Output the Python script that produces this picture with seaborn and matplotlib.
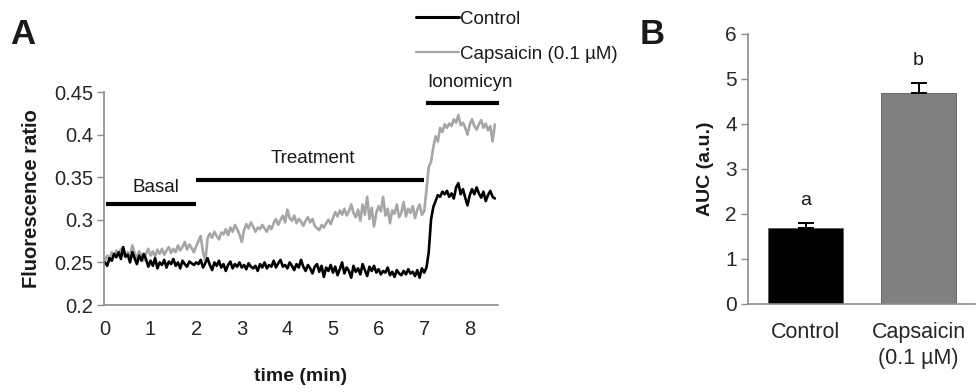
import numpy as np
import pandas as pd
import matplotlib
matplotlib.use("Agg")
import matplotlib.pyplot as plt
from matplotlib.lines import Line2D
import seaborn as sns

# ---- Panel A: calcium imaging traces (fluorescence ratio, sampled every 0.05 min) ----
sample_interval_min = 0.05
control_ratio = [
    0.250, 0.246, 0.255, 0.252, 0.260, 0.256, 0.262, 0.254, 0.268, 0.257,
    0.259, 0.250, 0.262, 0.255, 0.248, 0.258, 0.252, 0.260, 0.254, 0.245,
    0.252, 0.246, 0.255, 0.243, 0.250, 0.247, 0.253, 0.244, 0.251, 0.248,
    0.254, 0.246, 0.250, 0.243, 0.252, 0.248, 0.245, 0.251, 0.249, 0.247,
    0.250, 0.248, 0.253, 0.244, 0.249, 0.255, 0.247, 0.241, 0.250, 0.246,
    0.252, 0.244, 0.248, 0.240, 0.247, 0.251, 0.243, 0.248, 0.245, 0.250,
    0.244, 0.247, 0.242, 0.249, 0.245, 0.243, 0.246, 0.240, 0.248, 0.244,
    0.250, 0.243, 0.247, 0.245, 0.252, 0.244, 0.249, 0.253, 0.245, 0.247,
    0.243, 0.250, 0.246, 0.241, 0.248, 0.244, 0.253, 0.245, 0.240, 0.247,
    0.243, 0.237, 0.245, 0.248, 0.239, 0.246, 0.233, 0.244, 0.240, 0.247,
    0.238, 0.245, 0.235, 0.242, 0.250, 0.237, 0.244, 0.240, 0.232, 0.246,
    0.239, 0.243, 0.236, 0.248, 0.241, 0.234, 0.245, 0.240, 0.246, 0.238,
    0.242, 0.236, 0.240, 0.238, 0.244, 0.235, 0.239, 0.233, 0.241, 0.237,
    0.235, 0.240, 0.236, 0.242, 0.237, 0.239, 0.234, 0.241, 0.232, 0.243,
    0.238, 0.244, 0.262, 0.300, 0.315, 0.322, 0.329, 0.327, 0.333, 0.330,
    0.334, 0.327, 0.331, 0.325, 0.338, 0.343, 0.330, 0.336, 0.326, 0.317,
    0.329, 0.336, 0.330, 0.338, 0.331, 0.326, 0.333, 0.322, 0.329, 0.334,
    0.327, 0.325,
]
capsaicin_ratio = [
    0.252, 0.258, 0.254, 0.262, 0.257, 0.264, 0.259, 0.266, 0.260, 0.256,
    0.262, 0.258, 0.270, 0.261, 0.255, 0.263, 0.258, 0.252, 0.260, 0.266,
    0.258, 0.263, 0.257, 0.265, 0.260, 0.266, 0.259, 0.264, 0.268, 0.261,
    0.266, 0.262, 0.270, 0.264, 0.268, 0.274, 0.265, 0.271, 0.267, 0.262,
    0.269, 0.275, 0.281, 0.262, 0.252, 0.278, 0.284, 0.279, 0.286, 0.281,
    0.277, 0.285, 0.283, 0.289, 0.282, 0.291, 0.286, 0.294, 0.289, 0.283,
    0.274, 0.288, 0.295, 0.290, 0.297, 0.292, 0.286, 0.291, 0.289, 0.294,
    0.290, 0.286, 0.293, 0.289, 0.296, 0.301, 0.294, 0.300, 0.305, 0.297,
    0.312, 0.302, 0.299, 0.305, 0.296, 0.301, 0.298, 0.293, 0.299, 0.303,
    0.297, 0.301, 0.293, 0.290, 0.288, 0.294, 0.291, 0.296, 0.300, 0.295,
    0.302, 0.309, 0.304, 0.311, 0.306, 0.313, 0.305, 0.310, 0.318, 0.308,
    0.303, 0.312, 0.299, 0.318, 0.306, 0.327, 0.301, 0.314, 0.292, 0.308,
    0.316, 0.310, 0.327, 0.305, 0.313, 0.296, 0.311, 0.307, 0.318, 0.303,
    0.309, 0.321, 0.304, 0.313, 0.308, 0.316, 0.302, 0.312, 0.318, 0.306,
    0.310, 0.335, 0.362, 0.368, 0.385, 0.398, 0.392, 0.408, 0.403, 0.412,
    0.408, 0.413, 0.410, 0.418, 0.414, 0.423, 0.411, 0.414, 0.408, 0.400,
    0.412, 0.418, 0.410, 0.406, 0.412, 0.417, 0.408, 0.413, 0.405, 0.410,
    0.392, 0.412,
]
series_names = ["Control", "Capsaicin (0.1 \u00b5M)"]
series_colors = ["#000000", "#a6a6a6"]

# protocol periods: (label, start min, end min, bar level, label x, label y)
periods = [
    ("Basal", 0.02, 2.0, 0.319, 1.12, 0.338),
    ("Treatment", 2.0, 7.0, 0.347, 4.55, 0.372),
    ("Ionomicyn", 7.05, 8.65, 0.437, 8.0, 0.461),
]
ratio_ticks = [0.2, 0.25, 0.3, 0.35, 0.4, 0.45]
ratio_ticklabels = ["0.2", "0.25", "0.3", "0.35", "0.4", "0.45"]
time_ticks = [0, 1, 2, 3, 4, 5, 6, 7, 8]

# ---- Panel B: area under the curve ----
auc_groups = ["Control", "Capsaicin\n(0.1 \u00b5M)"]
auc_mean = [1.68, 4.68]
auc_sem = [0.13, 0.24]
auc_letters = ["a", "b"]
auc_colors = ["#000000", "#808080"]
auc_ticks = [0, 1, 2, 3, 4, 5, 6]

sns.set_style("ticks")
plt.rcParams["font.family"] = ["Liberation Sans", "DejaVu Sans"]
plt.rcParams["text.color"] = "#1a1a1a"
plt.rcParams["axes.labelcolor"] = "#1a1a1a"

fig = plt.figure(figsize=(9.76, 3.92), dpi=100)
axA = fig.add_axes([0.1066, 0.2219, 0.4037, 0.5434])
axB = fig.add_axes([0.7664, 0.2245, 0.2326, 0.6888])

# traces
n = len(control_ratio)
time_min = np.arange(n) * sample_interval_min
traces = pd.DataFrame({
    "time": np.concatenate([time_min, time_min]),
    "ratio": control_ratio + capsaicin_ratio,
    "group": [series_names[0]] * n + [series_names[1]] * n,
})
sns.lineplot(data=traces, x="time", y="ratio", hue="group",
             hue_order=series_names[::-1],
             palette=dict(zip(series_names, series_colors)),
             linewidth=1.9, ax=axA, legend=False, errorbar=None)

for label, x0, x1, level, tx, ty in periods:
    axA.hlines(level, x0, x1, color="black", linewidth=3.0, clip_on=False)
    axA.text(tx, ty, label, ha="center", va="center", fontsize=13.5)

axA.set_xlim(-0.02, 8.62)
axA.set_ylim(0.2, 0.45)
axA.set_yticks(ratio_ticks)
axA.set_yticklabels(ratio_ticklabels)
axA.set_xticks(time_ticks)
axA.tick_params(axis="y", length=5, width=1, color="#8c8c8c", labelsize=14.5, pad=3)
axA.tick_params(axis="x", length=0, labelsize=14.5, pad=11)
axA.set_xlabel("time (min)", fontsize=14, fontweight="bold", labelpad=21)
axA.set_ylabel("Fluorescence ratio", fontsize=14.5, fontweight="bold", labelpad=9)
for side in ["top", "right"]:
    axA.spines[side].set_visible(False)
for side in ["left", "bottom"]:
    axA.spines[side].set_color("#8c8c8c")
    axA.spines[side].set_linewidth(1.2)

# legend for the traces
handles = [Line2D([], [], color=c, linewidth=lw) for c, lw in zip(series_colors, [2.2, 1.6])]
fig.legend(handles, series_names, loc="upper left", bbox_to_anchor=(0.424, 0.978),
           frameon=False, fontsize=13.5, handlelength=2.3, handletextpad=0.05,
           labelspacing=0.95, borderpad=0.0, borderaxespad=0.1)

# AUC bars
auc_df = pd.DataFrame({"group": auc_groups, "auc": auc_mean})
sns.barplot(data=auc_df, x="group", y="auc", hue="group",
            palette=dict(zip(auc_groups, auc_colors)), width=0.67,
            errorbar=None, legend=False, ax=axB, edgecolor="#5a5a5a", linewidth=0.6)
xs = np.arange(len(auc_groups))
axB.errorbar(xs, auc_mean, yerr=[np.zeros(len(auc_sem)), auc_sem], fmt="none",
             ecolor="black", elinewidth=1.4, capsize=6, capthick=1.4)
for x, m, s, letter in zip(xs, auc_mean, auc_sem, auc_letters):
    axB.text(x, m + s + 0.5, letter, ha="center", va="center", fontsize=14)

axB.set_xlim(-0.51, 1.5)
axB.set_ylim(0, 6)
axB.set_yticks(auc_ticks)
axB.tick_params(axis="y", length=5, width=1, color="#8c8c8c", labelsize=15, pad=3)
axB.tick_params(axis="x", length=0, labelsize=15.5, pad=13)
for lbl in axB.get_xticklabels():
    lbl.set_linespacing(1.3)
axB.set_xlabel("")
axB.set_ylabel("AUC (a.u.)", fontsize=14, fontweight="bold", labelpad=8)
for side in ["top", "right"]:
    axB.spines[side].set_visible(False)
for side in ["left", "bottom"]:
    axB.spines[side].set_color("#8c8c8c")
    axB.spines[side].set_linewidth(1.2)

# panel letters
fig.text(0.010, 0.912, "A", fontsize=25, fontweight="bold", va="center", ha="left")
fig.text(0.655, 0.912, "B", fontsize=25, fontweight="bold", va="center", ha="left")

fig.savefig("out.png", dpi=100)
